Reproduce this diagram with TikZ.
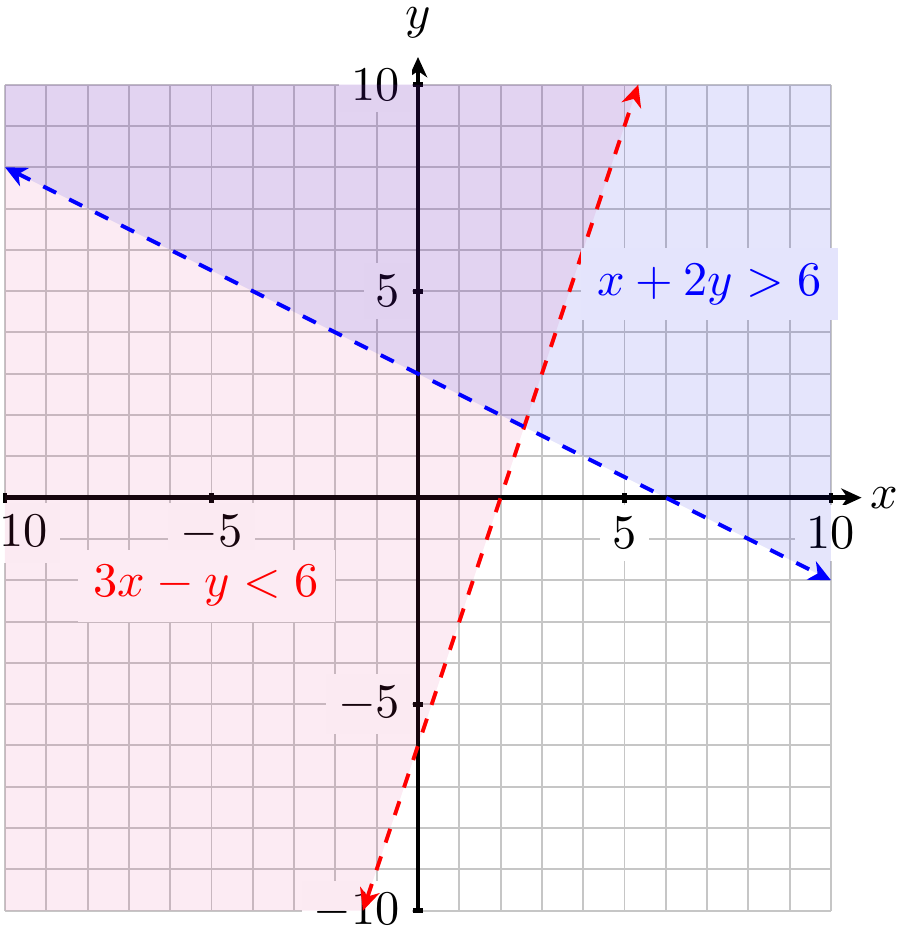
\documentclass[tikz,border=0pt]{standalone}
\usetikzlibrary{arrows.meta}
\definecolor{pinkc}{RGB}{225,55,135}
\definecolor{bluec}{RGB}{0,0,225}
\definecolor{pinkbg}{RGB}{252,235,243}
\definecolor{bluebg}{RGB}{228,228,252}
\tikzset{
  gridline/.style={draw=gray!45, line width=0.4pt},
  axisline/.style={draw=black, line width=1pt},
  ticklab/.style={fill=white, inner sep=2.5pt},
  boundary/.style={line width=0.8pt, dashed, {Stealth[length=4.5pt,width=4.2pt,inset=1.4pt]}-{Stealth[length=4.5pt,width=4.2pt,inset=1.4pt]}},
  eqlab/.style={inner sep=3.3pt}
}
\begin{document}
\begin{tikzpicture}[x=0.3cm,y=0.3cm]
\useasboundingbox (-10.121,-10.444) rectangle (11.864,12.05);
% grid
\draw[gridline, step=1] (-10,-10) grid (10,10);
% axes
\coordinate (xl) at (-10,0);
\coordinate (xr) at (10.74,0);
\coordinate (yb) at (0,-10);
\coordinate (yt) at (0,10.67);
\draw[axisline, -{Stealth[length=4.2pt,width=3.8pt,inset=1.3pt]}] (xl) -- (xr);
\draw[axisline, -{Stealth[length=4.2pt,width=3.8pt,inset=1.3pt]}] (yb) -- (yt);
\foreach \t in {-10,-5,5,10} {
  \draw[axisline] (\t,-0.12) -- (\t,0.12);
  \draw[axisline] (-0.12,\t) -- (0.12,\t);
}
% tick labels
\foreach \t in {-10,-5,5,10} {
  \node[ticklab] (xt\t) at (\t,-0.86) {$\t$};
  \node[ticklab, anchor=east] (yt\t) at (-0.12,\t) {$\t$};
}
% regions
\fill[pinkc, fill opacity=0.1] (-10,-10) -- (-4/3,-10) -- (16/3,10) -- (-10,10) -- cycle;
\fill[bluec, fill opacity=0.1] (-10,8) -- (10,-2) -- (10,10) -- (-10,10) -- cycle;
% boundary lines
\coordinate (ra) at (-4/3,-10);
\coordinate (rb) at (16/3,10);
\coordinate (ba) at (-10,8);
\coordinate (bb) at (10,-2);
\draw[boundary, red] (ra) -- (rb);
\draw[boundary, blue] (ba) -- (bb);
% equation labels
\node[eqlab, fill=bluebg, text=blue] (eqb) at (7.06,5.17) {$x+2y>6$};
\node[eqlab, fill=pinkbg, text=red] (eqr) at (-5.13,-2.14) {$3x-y<6$};
% axis labels
\node[inner sep=1pt] (xlab) at (11.3,0) {$x$};
\node[inner sep=1pt] (ylab) at (0,11.5) {$y$};
\end{tikzpicture}
\end{document}
